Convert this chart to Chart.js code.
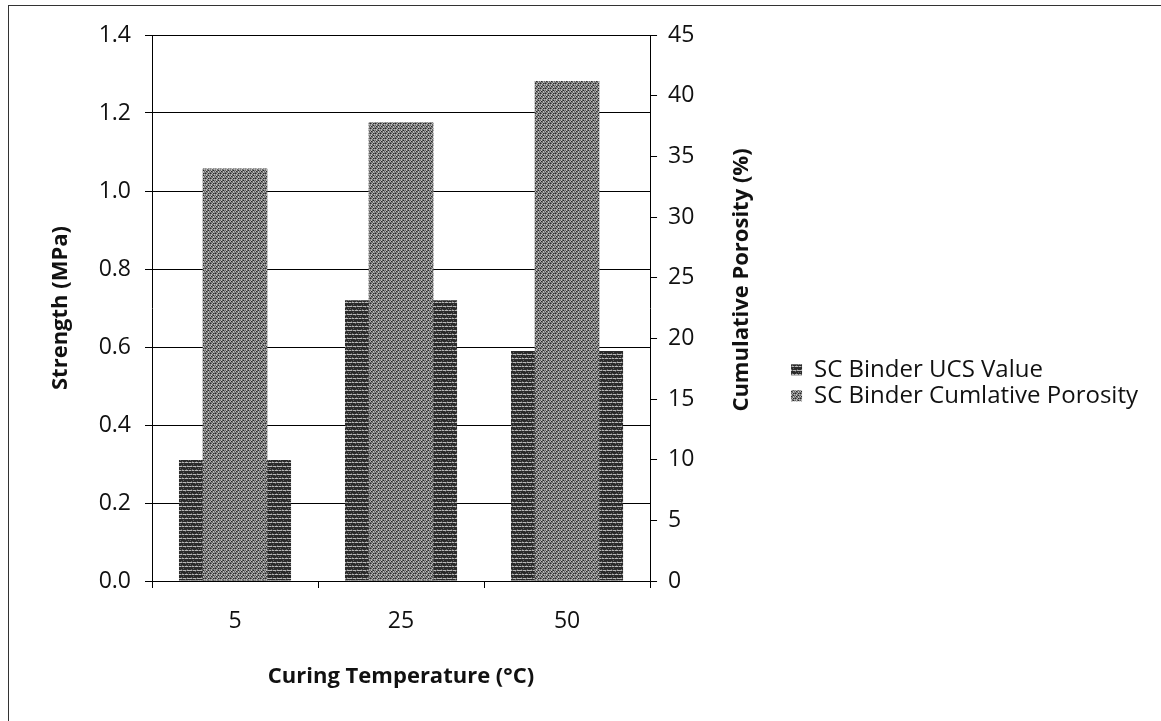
<!DOCTYPE html>
<html>
<head>
<meta charset="utf-8">
<script src="https://cdn.jsdelivr.net/npm/chart.js@4.4.1/dist/chart.umd.min.js"></script>
<style>
  html, body { margin: 0; padding: 0; background: #fff; }
  #wrap { width: 1161px; height: 721px; }
</style>
</head>
<body>
<div id="wrap"><canvas id="chart" width="1161" height="721"></canvas></div>
<script>
  /* ── Data ────────────────────────────────────────────────────────── */
  var CATEGORIES = ['5', '25', '50'];
  var UCS_VALUES = [0.31, 0.72, 0.59];          // MPa, left axis
  var POROSITY_VALUES = [34.0, 37.8, 41.2];     // %, right axis
  var SERIES_NAMES = ['SC Binder UCS Value', 'SC Binder Cumlative Porosity'];

  var FONT = "'Open Sans', 'Liberation Sans', sans-serif";
  var INK = '#111';
  var TICK_SIZE = 23;
  var LEGEND_SIZE = 24;
  var TITLE_SIZE = 22;

  /* ── Scanned-looking fill patterns (fixed, not random) ───────────── */
  var SHADES = { d: '#2a2a2a', m: '#656565', g: '#878787', l: '#b8b8b8' };

  function makePattern(rows) {
    var c = document.createElement('canvas');
    c.width = rows[0].length;
    c.height = rows.length;
    var g = c.getContext('2d');
    for (var y = 0; y < rows.length; y++) {
      for (var x = 0; x < rows[y].length; x++) {
        g.fillStyle = SHADES[rows[y][x]];
        g.fillRect(x, y, 1, 1);
      }
    }
    return g.createPattern(c, 'repeat');
  }

  var ucsFill = makePattern([
    'dddmdddddd',
    'dmdddddmdd',
    'llmlllmlll',
    'dddddmdddd',
    'mdddddddmd',
    'ddmdddmddd',
    'lmllmlllml',
    'dddddddddd'
  ]);
  var porosityFill = makePattern([
    'mlmdg',
    'ldmlm',
    'mgmlg',
    'dmldm',
    'glmgl'
  ]);

  /* ── Frame + right-hand axis title (reads bottom-to-top) ─────────── */
  var decorations = {
    id: 'decorations',
    afterDraw: function (chart) {
      var ctx = chart.ctx;
      ctx.save();
      ctx.strokeStyle = '#333';
      ctx.lineWidth = 1;
      ctx.strokeRect(8.5, 5.5, 1300, 900);

      ctx.translate(742, 280);
      ctx.rotate(-Math.PI / 2);
      ctx.fillStyle = INK;
      ctx.font = 'bold ' + TITLE_SIZE + 'px ' + FONT;
      ctx.textAlign = 'center';
      ctx.textBaseline = 'middle';
      ctx.fillText('Cumulative Porosity (%)', 0, 0);
      ctx.restore();
    }
  };

  new Chart(document.getElementById('chart'), {
    type: 'bar',
    data: {
      labels: CATEGORIES,
      datasets: [
        {
          label: SERIES_NAMES[0],
          data: UCS_VALUES,
          yAxisID: 'y',
          backgroundColor: ucsFill,
          borderWidth: 0,
          grouped: false,
          barPercentage: 0.675,
          categoryPercentage: 1,
          order: 2
        },
        {
          label: SERIES_NAMES[1],
          data: POROSITY_VALUES,
          yAxisID: 'y1',
          backgroundColor: porosityFill,
          borderWidth: 0,
          grouped: false,
          barPercentage: 0.39,
          categoryPercentage: 1,
          order: 1
        }
      ]
    },
    options: {
      responsive: false,
      devicePixelRatio: 1,
      animation: false,
      layout: { padding: { top: 35, right: 13, bottom: 0, left: 0 } },
      plugins: {
        tooltip: { enabled: false },
        legend: {
          position: 'right',
          fullSize: true,
          maxWidth: 440,
          /* empty title only nudges the items down a few pixels */
          title: { display: true, text: '', padding: 0, font: { size: 8 } },
          labels: {
            boxWidth: 11,
            boxHeight: 11,
            padding: 2,
            color: INK,
            font: { family: FONT, size: LEGEND_SIZE },
            sort: function (a, b) { return a.datasetIndex - b.datasetIndex; }
          }
        }
      },
      scales: {
        x: {
          offset: true,
          grid: {
            offset: true,
            drawOnChartArea: false,
            drawTicks: true,
            tickLength: 7,
            color: '#000'
          },
          border: { display: true, color: '#000' },
          ticks: { color: INK, padding: 20, font: { family: FONT, size: TICK_SIZE } },
          title: {
            display: true,
            text: 'Curing Temperature (°C)',
            color: INK,
            font: { family: FONT, size: TITLE_SIZE, weight: 'bold' },
            padding: { top: 0, bottom: 31 }
          },
          afterFit: function (s) { s.height = 140; }
        },
        y: {
          position: 'left',
          min: 0,
          max: 1.4,
          ticks: {
            stepSize: 0.2,
            color: INK,
            padding: 14,
            font: { family: FONT, size: TICK_SIZE },
            callback: function (v) { return Number(v).toFixed(1); }
          },
          grid: { color: '#000', lineWidth: 1, tickLength: 7 },
          border: { display: true, color: '#000' },
          title: {
            display: true,
            text: 'Strength (MPa)',
            color: INK,
            font: { family: FONT, size: TITLE_SIZE, weight: 'bold' },
            padding: { top: 48, bottom: 0 }
          },
          afterFit: function (s) { s.width = 152; }
        },
        y1: {
          position: 'right',
          min: 0,
          max: 45,
          ticks: {
            stepSize: 5,
            color: INK,
            padding: 11,
            font: { family: FONT, size: TICK_SIZE }
          },
          grid: { drawOnChartArea: false, color: '#000', tickLength: 7 },
          border: { display: true, color: '#000' },
          afterFit: function (s) { s.width = 139; }
        }
      }
    },
    plugins: [decorations]
  });
</script>
</body>
</html>
